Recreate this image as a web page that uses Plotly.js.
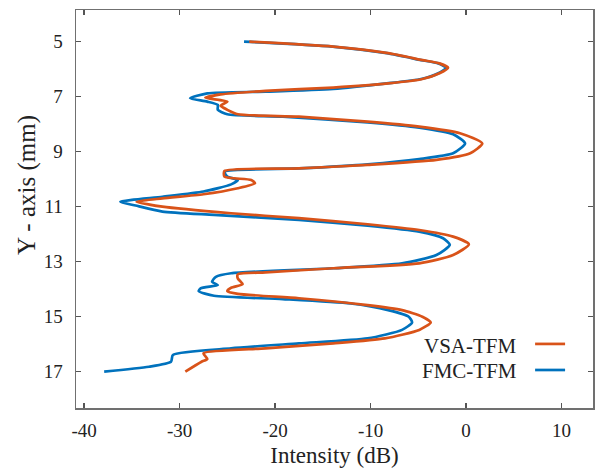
<!DOCTYPE html>
<html>
<head>
<meta charset="utf-8">
<script src="https://cdn.plot.ly/plotly-3.0.1.min.js"></script>
<style>html,body{margin:0;padding:0;background:#fff;overflow:hidden;}#plot{width:596px;height:476px;}</style>
</head>
<body>
<div id="plot"></div>
<script>
const seriesNames = ["VSA-TFM", "FMC-TFM"];
const xTicks = [-40, -30, -20, -10, 0, 10];
const yTicks = [5, 7, 9, 11, 13, 15, 17];

const vsaY = [5, 5.18, 5.42, 5.67, 5.79, 5.95, 6.15, 6.36, 6.52, 6.67, 6.79, 6.92, 7.04, 7.18, 7.33, 7.48, 7.64, 7.73, 7.91, 8.09, 8.33, 8.70, 9.06, 9.30, 9.48, 9.61, 9.70, 9.91, 10.03, 10.15, 10.33, 10.55, 10.70, 10.82, 11.0, 11.24, 11.42, 11.64, 11.85, 12.09, 12.37, 12.76, 13.06, 13.24, 13.39, 13.46, 13.61, 13.82, 13.95, 14.07, 14.17, 14.33, 14.58, 14.76, 15.0, 15.21, 15.48, 15.79, 15.97, 16.15, 16.33, 16.54, 16.64, 17.0];
const vsaX = [-22.7, -13.9, -8.15, -4.57, -2.78, -1.88, -2.78, -4.57, -8.15, -13.9, -21.0, -25.7, -27.3, -25.0, -25.7, -25.0, -23.9, -17.5, -10.3, -4.9, -0.63, 1.7, 0.44, -3.1, -10.3, -17.5, -25.3, -25.3, -22.5, -22.1, -23.9, -27.5, -31.8, -34.5, -31.8, -24.6, -17.5, -10.3, -4.9, -1.35, 0.3, -1.35, -4.9, -13.9, -21.0, -23.9, -23.9, -23.4, -24.6, -25.0, -23.9, -17.5, -10.3, -6.7, -4.57, -3.7, -4.9, -8.5, -13.9, -21.0, -27.5, -27.1, -27.7, -29.4];

const fmcY = [5, 5.18, 5.42, 5.67, 5.79, 5.95, 6.15, 6.36, 6.52, 6.72, 6.82, 6.88, 7.06, 7.18, 7.30, 7.48, 7.64, 7.73, 7.94, 8.13, 8.37, 8.70, 9.06, 9.27, 9.46, 9.61, 9.73, 9.91, 10.03, 10.19, 10.45, 10.64, 10.82, 10.96, 11.18, 11.30, 11.48, 11.69, 11.91, 12.15, 12.39, 12.76, 13.06, 13.24, 13.42, 13.55, 13.73, 13.85, 13.97, 14.07, 14.24, 14.36, 14.52, 14.76, 15.0, 15.21, 15.48, 15.79, 15.97, 16.15, 16.39, 16.64, 16.82, 17.0];
const fmcX = [-23.25, -14.0, -8.3, -4.7, -2.9, -2.1, -2.9, -4.7, -8.3, -13.9, -21.0, -27.1, -28.9, -27.1, -26.0, -26.0, -25.0, -19.2, -10.3, -4.9, -1.35, -0.1, -1.35, -4.9, -10.3, -17.5, -25.3, -25.0, -23.9, -24.6, -27.5, -31.8, -36.2, -34.6, -31.8, -26.4, -17.5, -10.3, -4.9, -2.4, -1.7, -3.1, -6.7, -13.9, -24.6, -26.2, -26.6, -26.0, -27.8, -28.0, -26.4, -19.2, -12.1, -8.15, -6.0, -5.65, -6.7, -10.3, -17.5, -24.6, -30.7, -30.9, -33.2, -37.9];

const colors = {vsa: "#D95319", fmc: "#0072BD"};
const font = "Liberation Serif";

const traces = [
  {x: fmcX, y: fmcY, name: seriesNames[1], mode: "lines", line: {color: colors.fmc, width: 2.7, shape: "spline", smoothing: 0.6}},
  {x: vsaX, y: vsaY, name: seriesNames[0], mode: "lines", line: {color: colors.vsa, width: 2.7, shape: "spline", smoothing: 0.6}}
];

const axisCommon = {
  showgrid: false, zeroline: false, showline: true, linecolor: "#707070", linewidth: 1.5,
  mirror: "ticks", ticks: "inside", ticklen: 5, tickwidth: 1.3, tickcolor: "#555",
  tickfont: {family: font, size: 19, color: "#222"}
};

const layout = {
  width: 596, height: 476,
  margin: {l: 76, r: 3, t: 10, b: 68},
  paper_bgcolor: "#fff", plot_bgcolor: "#fff",
  showlegend: false,
  font: {family: font, color: "#222"},
  xaxis: Object.assign({}, axisCommon, {
    range: [-40.85, 13.3], tickvals: xTicks, ticktext: xTicks.map(String), ticklabelstandoff: 5,
    title: {text: "Intensity (dB)", font: {family: font, size: 23, color: "#222"}, standoff: 6}
  }),
  yaxis: Object.assign({}, axisCommon, {
    range: [18.32, 3.85], tickvals: yTicks, ticktext: yTicks.map(String), ticklabelstandoff: 8
  }),
  annotations: [
    {xref: "paper", yref: "paper", x: -0.095, y: 0.56, text: "Y - axis (mm)", textangle: -90, showarrow: false,
     font: {family: font, size: 25, color: "#222"}, xanchor: "center", yanchor: "middle"},
    {xref: "paper", yref: "paper", x: 0.857, y: 0.156, text: seriesNames[0], showarrow: false,
     font: {family: font, size: 21, color: "#222"}, xanchor: "right", yanchor: "middle"},
    {xref: "paper", yref: "paper", x: 0.857, y: 0.093, text: seriesNames[1], showarrow: false,
     font: {family: font, size: 21, color: "#222"}, xanchor: "right", yanchor: "middle"}
  ],
  shapes: [
    {type: "line", xref: "paper", yref: "paper", x0: 0.888, x1: 0.946, y0: 0.161, y1: 0.161, line: {color: colors.vsa, width: 2.7}},
    {type: "line", xref: "paper", yref: "paper", x0: 0.888, x1: 0.946, y0: 0.0955, y1: 0.0955, line: {color: colors.fmc, width: 2.7}}
  ]
};

Plotly.newPlot("plot", traces, layout, {displayModeBar: false, staticPlot: true});
</script>
</body>
</html>
